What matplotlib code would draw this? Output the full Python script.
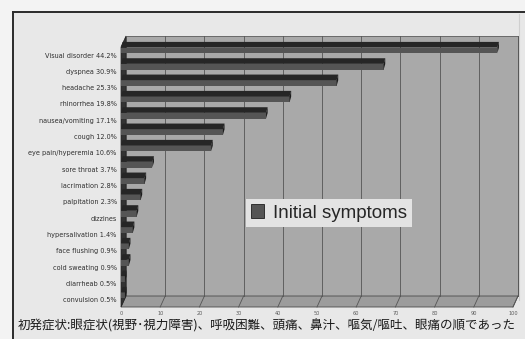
import matplotlib
matplotlib.use("Agg")
import matplotlib.pyplot as plt
from matplotlib.patches import Polygon, Rectangle
from matplotlib.lines import Line2D
import numpy as np

# ---- data -------------------------------------------------------------
symptoms = ["Visual disorder", "dyspnea", "headache", "rhinorrhea",
            "nausea/vomiting", "cough", "eye pain/hyperemia", "sore throat",
            "lacrimation", "palpitation", "dizzines", "hypersalivation",
            "face flushing", "cold sweating", "diarrheab", "convulsion"]
percents = ["44.2%", "30.9%", "25.3%", "19.8%", "17.1%", "12.0%", "10.6%",
            "3.7%", "2.8%", "2.3%", "", "1.4%", "0.9%", "0.9%", "0.5%", "0.5%"]
counts = [96, 67, 55, 43, 37, 26, 23, 8, 6, 5, 4, 3, 2, 2, 1, 1]
x_ticks = list(range(0, 101, 10))
series_name = "Initial symptoms"
caption = "初発症状:眼症状(視野･視力障害)、呼吸困難、頭痛、鼻汁、嘔気/嘔吐、眼痛の順であった"

W, H = 525, 339
fig = plt.figure(figsize=(W / 100, H / 100), dpi=100)
fig.patch.set_facecolor("#f3f3f3")

def fx(px):
    return px / W

def fy(py):
    return 1 - py / H

# page panel and its frame
fig.add_artist(Rectangle((fx(13), 0), 1 - fx(13), fy(12), transform=fig.transFigure,
                         facecolor="#e8e8e8", edgecolor="none", zorder=-5))
fig.add_artist(Line2D([fx(13), 1], [fy(12), fy(12)], color="#2a2a2a", lw=1.4))
fig.add_artist(Line2D([fx(13), fx(13)], [0, fy(12)], color="#2a2a2a", lw=1.4))
fig.add_artist(Line2D([fx(518.5), fx(518.5)], [fy(300), fy(14)], color="#cfcfcf",
                      lw=0.8, zorder=-4))

# ---- 3D-style bar chart -----------------------------------------------
x0, x1 = 121, 513          # pixel span of the 0..100 value scale (front)
y_top, y_bot = 36, 307     # pixel span of the plot (back top / front floor)
row0, pitch = 55, 16.33
ylim_top = (y_top - row0) / pitch
ylim_bot = (y_bot - row0) / pitch

ax = fig.add_axes([fx(x0), fy(y_bot), (x1 - x0) / W, (y_bot - y_top) / H])
ax.set_xlim(0, 100)
ax.set_ylim(ylim_bot, ylim_top)
ax.set_facecolor("none")
for s in ax.spines.values():
    s.set_visible(False)

px_x = 100 / (x1 - x0)     # data units per pixel, x
px_y = 1 / pitch           # data units per pixel, y
wall_dx, wall_dy = 5 * px_x, -11 * px_y
bar_dx, bar_dy = 1.6 * px_x, -5.6 * px_y
floor_front = ylim_bot
floor_back = ylim_bot + wall_dy
back_top = ylim_top

# back wall
ax.add_patch(Polygon([(wall_dx, back_top), (100 + wall_dx, back_top),
                      (100 + wall_dx, floor_back), (wall_dx, floor_back)],
                     closed=True, facecolor="#a9a9a9", edgecolor="#5a5a5a", lw=0.6,
                     zorder=1, clip_on=False))
# floor
ax.add_patch(Polygon([(0, floor_front), (100, floor_front),
                      (100 + wall_dx, floor_back), (wall_dx, floor_back)],
                     closed=True, facecolor="#9c9c9c", edgecolor="#4a4a4a", lw=0.6,
                     zorder=1, clip_on=False))
# left wall
ax.add_patch(Polygon([(0, back_top - wall_dy), (wall_dx, back_top),
                      (wall_dx, floor_back), (0, floor_front)],
                     closed=True, facecolor="#333333", edgecolor="#222222", lw=0.5,
                     zorder=2, clip_on=False))
# grid on back wall and floor
for t in x_ticks[1:]:
    ax.plot([t + wall_dx, t + wall_dx], [back_top, floor_back], color="#555555",
            lw=0.6, zorder=1.5, clip_on=False)
    ax.plot([t, t + wall_dx], [floor_front, floor_back], color="#555555",
            lw=0.6, zorder=1.5, clip_on=False)

rows = np.arange(len(counts))
face_bottom = rows - 0.104
face_h = 5.8 * px_y
# front faces
bars = ax.barh(face_bottom - face_h / 2, counts, height=face_h, left=0,
               color="#555555", edgecolor="none", zorder=3, label=series_name)
# top and end faces
for r, v in zip(rows, counts):
    top = face_bottom[r] - face_h
    ax.add_patch(Polygon([(0, top), (v, top), (v + bar_dx, top + bar_dy),
                          (bar_dx, top + bar_dy)], closed=True,
                         facecolor="#262626", edgecolor="none", zorder=3))
    ax.add_patch(Polygon([(v, top), (v + bar_dx, top + bar_dy),
                          (v + bar_dx, face_bottom[r] + bar_dy), (v, face_bottom[r])],
                         closed=True, facecolor="#1c1c1c", edgecolor="none", zorder=3))

# axis labels
ax.set_xticks(x_ticks)
ax.set_xticklabels([str(t) for t in x_ticks], fontsize=3.6, color="#5a5a5a")
ax.tick_params(axis="x", length=0, pad=3)
ax.set_yticks(rows)
ax.set_yticklabels([f"{n} {p}".strip() for n, p in zip(symptoms, percents)],
                   fontsize=4.7, color="#2e2e2e")
ax.tick_params(axis="y", length=0, pad=3)

leg = ax.legend(handles=[bars], labels=[series_name], loc="center",
                bbox_to_anchor=(fx(329), fy(213)), bbox_transform=fig.transFigure,
                prop={"family": "Liberation Sans", "size": 13.5},
                handlelength=0.7, handleheight=0.7, handletextpad=0.45,
                borderpad=0.3, fancybox=False, framealpha=1)
leg.get_frame().set_facecolor("#e3e3e3")
leg.get_frame().set_edgecolor("none")
leg.legend_handles[0].set_edgecolor("#1e1e1e")
leg.legend_handles[0].set_linewidth(0.6)
for t in leg.get_texts():
    t.set_color("#262626")

fig.text(fx(18), fy(326), caption, fontsize=9.0, color="#1a1a1a", va="center",
         ha="left", family=["Noto Sans CJK JP", "DejaVu Sans"])

fig.savefig("out.png", dpi=100, facecolor=fig.get_facecolor())
